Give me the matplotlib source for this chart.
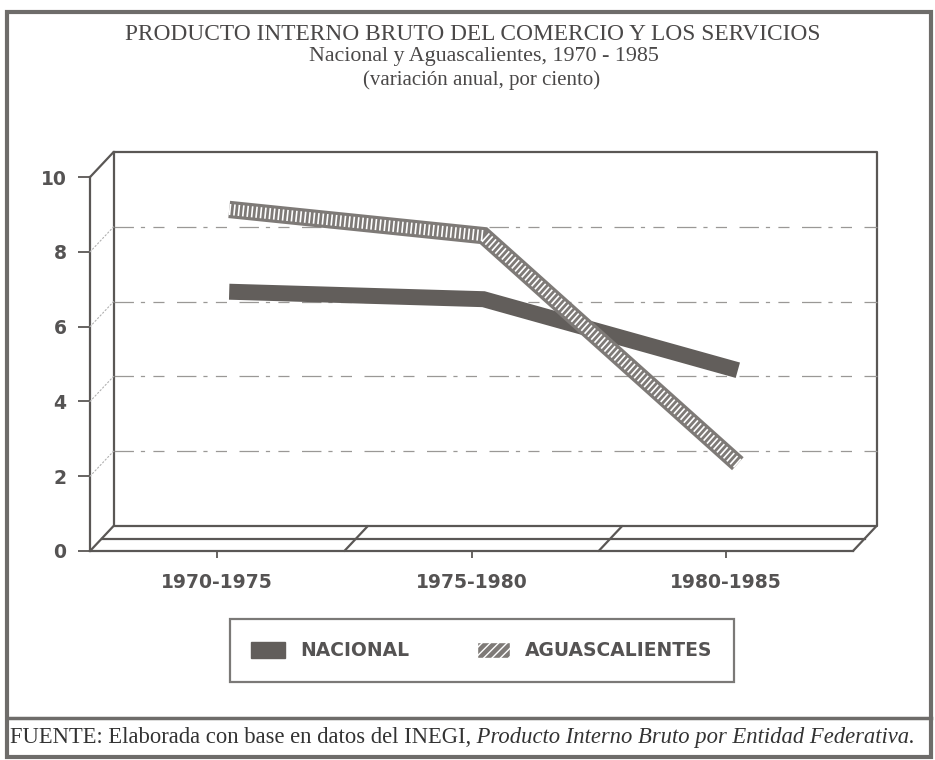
import matplotlib
matplotlib.use('Agg')
import matplotlib.pyplot as plt
import matplotlib.transforms as mtransforms
from matplotlib.patches import Patch, Rectangle
from matplotlib.lines import Line2D
import numpy as np

# datos (variación anual, por ciento)
periodos = ['1970-1975', '1975-1980', '1980-1985']
nacional = [6.6, 6.4, 4.5]
aguascalientes = [8.8, 8.1, 2.0]
y_ticks = [0, 2, 4, 6, 8, 10]

plt.rcParams['lines.scale_dashes'] = False
gris = '#5a5755'
gris_txt = '#4a4848'
c_nac = '#625e5b'
c_ags = '#7e7a77'

fig = plt.figure(figsize=(9.35, 7.6), dpi=100)
ax = fig.add_axes([0.0963, 0.275, 0.816, 0.492])
x = np.arange(len(periodos))
ax.set_xlim(-0.5, 2.5)
ax.set_ylim(0, 10)

# transformaciones para la profundidad (pared del fondo y plano medio)
fondo = ax.transData + mtransforms.ScaledTranslation(0.235, 0.25, fig.dpi_scale_trans)
medio = ax.transData + mtransforms.ScaledTranslation(0.12, 0.125, fig.dpi_scale_trans)


def diagonal(xv, yv, ls='-', lw=1.6, color=gris):
    ax.annotate('', xy=(xv, yv), xycoords=fondo, xytext=(xv, yv), textcoords=ax.transData,
                annotation_clip=False,
                arrowprops=dict(arrowstyle='-', color=color, lw=lw, ls=ls, shrinkA=0, shrinkB=0))


# pared del fondo
ax.plot([-0.5, 2.5, 2.5, -0.5, -0.5], [10, 10, 0, 0, 10], color=gris, lw=1.6,
        transform=fondo, clip_on=False)
for g in y_ticks[1:-1]:
    ax.plot([-0.5, 2.5], [g, g], color='#9a9896', lw=0.9, ls=(0, (14, 5, 3, 6, 8, 9)),
            transform=fondo, clip_on=False)
    diagonal(-0.5, g, ls=':', lw=0.8, color='#b0b0b0')
# piso
ax.plot([-0.5, 2.5], [0, 0], color=gris, lw=1.6, transform=medio, clip_on=False)
diagonal(-0.5, 10)
diagonal(-0.5, 0)
diagonal(2.5, 0)
for b in [0.5, 1.5]:
    diagonal(b, 0)

# series
ax.plot(x, nacional, color=c_nac, lw=11.5, solid_capstyle='butt', solid_joinstyle='miter',
        transform=medio, clip_on=False, zorder=3)
ax.plot(x, aguascalientes, color=c_ags, lw=12.5, solid_capstyle='butt', solid_joinstyle='miter',
        transform=medio, clip_on=False, zorder=4)
ax.plot(x, aguascalientes, color='white', lw=8, dash_capstyle='butt', ls=(0, (1.2, 2.0)),
        transform=medio, clip_on=False, zorder=5)

# ejes
for s in ['top', 'right']:
    ax.spines[s].set_visible(False)
for s in ['left', 'bottom']:
    ax.spines[s].set_color(gris)
    ax.spines[s].set_linewidth(1.6)
ax.set_xticks(x)
ax.set_xticklabels(periodos)
ax.set_yticks(y_ticks)
ax.tick_params(axis='y', direction='out', length=9, width=1.3, color=gris, pad=8)
ax.tick_params(axis='x', direction='out', length=5, width=1.3, color=gris, pad=11)
for lab in ax.get_xticklabels() + ax.get_yticklabels():
    lab.set_fontweight('bold')
    lab.set_fontsize(13.5)
    lab.set_color('#555353')

# títulos
serif = 'Liberation Serif'
fig.text(0.506, 1 - 35 / 760, 'PRODUCTO INTERNO BRUTO DEL COMERCIO Y LOS SERVICIOS',
         ha='center', va='center', family=serif, fontsize=16.8, color=gris_txt)
fig.text(0.518, 1 - 57 / 760, 'Nacional y Aguascalientes, 1970 - 1985',
         ha='center', va='center', family=serif, fontsize=15.8, color=gris_txt)
fig.text(0.515, 1 - 80 / 760, '(variación anual, por ciento)',
         ha='center', va='center', family=serif, fontsize=15, color=gris_txt)

# leyenda
handles = [Patch(facecolor=c_nac, edgecolor=c_nac),
           Patch(facecolor=c_ags, edgecolor='white', hatch='////')]
leg = fig.legend(handles, ['NACIONAL', 'AGUASCALIENTES'], loc='center',
                 bbox_to_anchor=(0.5155, 0.144), ncol=2, fancybox=False,
                 handlelength=1.8, handleheight=0.95, handletextpad=0.8,
                 columnspacing=3.6, borderpad=1.15,
                 prop={'weight': 'bold', 'size': 13.5}, labelcolor='#555353')
leg.get_frame().set_edgecolor(gris)
leg.get_frame().set_linewidth(1.6)

# marco y fuente
fig.add_artist(Rectangle((0.007, 0.004), 0.989, 0.98, transform=fig.transFigure,
                         fill=False, edgecolor='#6e6c6a', lw=3))
fig.add_artist(Line2D([0.007, 0.996], [0.055, 0.055], transform=fig.transFigure,
                      color='#6e6c6a', lw=2.5))
t1 = fig.text(0.011, 0.030, 'FUENTE: Elaborada con base en datos del INEGI,',
              ha='left', va='center', family=serif, fontsize=16.3, color='#333333')
ax.annotate(' Producto Interno Bruto por Entidad Federativa.', xy=(1, 0), xycoords=t1,
            va='bottom', ha='left', family=serif, style='italic', fontsize=16.3,
            color='#333333', annotation_clip=False)

fig.savefig('out.png', dpi=100)
